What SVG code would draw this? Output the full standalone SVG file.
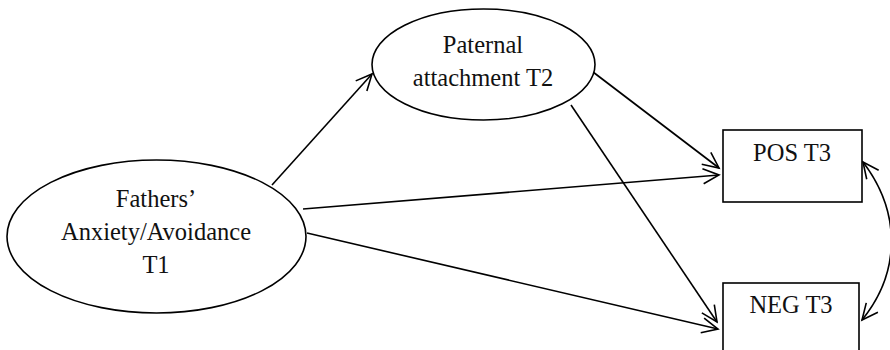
<svg xmlns="http://www.w3.org/2000/svg" width="890" height="350" viewBox="0 0 890 350">
<defs>
<style>
.shape{fill:#fff;stroke:#000;stroke-width:1.6}
.lbl{font-family:"Liberation Serif","Times New Roman",serif;font-size:24.5px;fill:#111;text-anchor:middle}
.edge{fill:none;stroke:#000;stroke-width:1.6}
</style>
<marker id="ah" markerUnits="userSpaceOnUse" markerWidth="20" markerHeight="20" refX="0" refY="0" viewBox="-17 -10 19 20" orient="auto-start-reverse">
<path d="M-16,-7.5 L0,0 L-16,7.5" fill="none" stroke="#000" stroke-width="1.6"/>
</marker>
</defs>
<rect width="890" height="350" fill="#fff"/>
<g id="connectors">
<line class="edge" x1="272" y1="185" x2="372" y2="74" marker-end="url(#ah)"/>
<line class="edge" x1="303" y1="209" x2="719" y2="175" marker-end="url(#ah)"/>
<line class="edge" x1="307" y1="233" x2="718" y2="329" marker-end="url(#ah)"/>
<line class="edge" x1="593" y1="72" x2="719" y2="168" marker-end="url(#ah)"/>
<line class="edge" x1="571" y1="105" x2="717" y2="322" marker-end="url(#ah)"/>
<path class="edge" d="M863,162 C901,212 901,272 862,320" marker-start="url(#ah)" marker-end="url(#ah)"/>
</g>
<g id="fathers">
<ellipse class="shape" cx="156.5" cy="236.5" rx="149.5" ry="76.5"/>
<text class="lbl" x="156" y="207">Fathers’</text>
<text class="lbl" x="156" y="240">Anxiety/Avoidance</text>
<text class="lbl" x="156" y="273">T1</text>
</g>
<g id="paternal">
<ellipse class="shape" cx="483.5" cy="64.5" rx="111.5" ry="55.5"/>
<text class="lbl" x="483" y="53">Paternal</text>
<text class="lbl" x="483" y="86">attachment T2</text>
</g>
<g id="pos">
<rect class="shape" x="723" y="130" width="139" height="72"/>
<text class="lbl" x="792" y="161">POS T3</text>
</g>
<g id="neg">
<rect class="shape" x="723" y="283" width="136" height="72"/>
<text class="lbl" x="791" y="313">NEG T3</text>
</g>
</svg>
